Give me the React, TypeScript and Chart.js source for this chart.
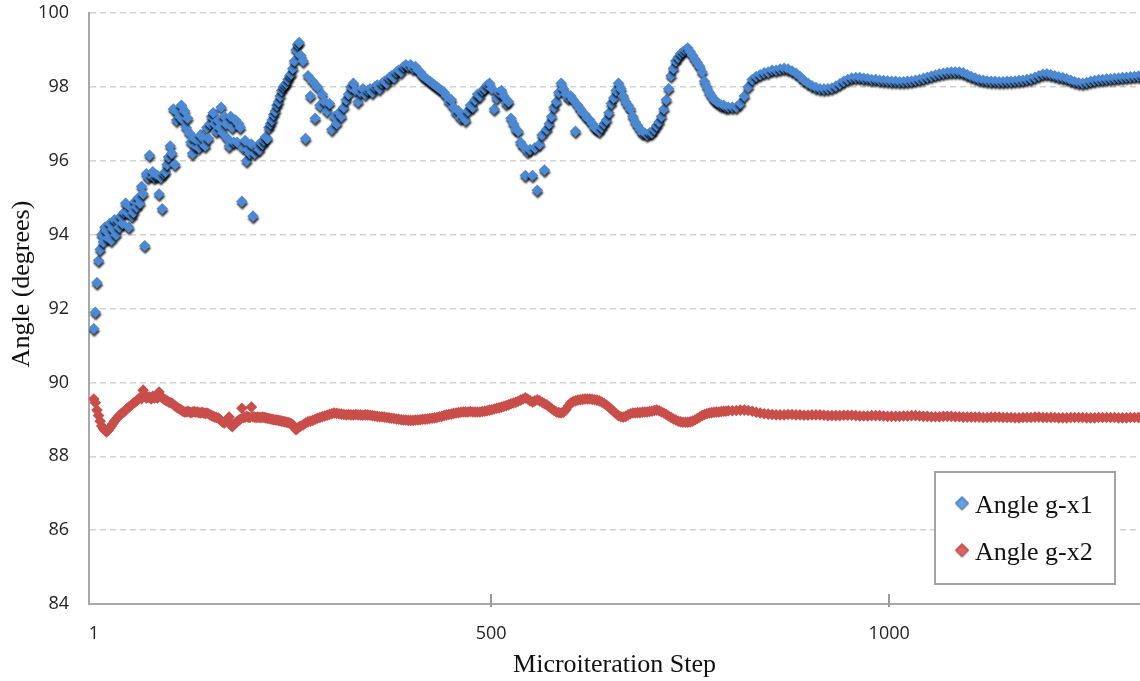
import { useEffect, useRef } from "react";
import { Chart, registerables } from "chart.js";

Chart.register(...registerables);

// Sampling of the microiteration steps:
// every 2 steps for 1..261, every 3 steps for 264..798, every 5 steps for 803..1318
const EARLY = { first: 1, last: 261, interval: 2 };
const MID = { first: 264, last: 798, interval: 3 };
const LATE = { first: 803, last: 1318, interval: 5 };

const blueLabel = "Angle g-x1";
const redLabel = "Angle g-x2";

// Angle g-x1, steps 1..261
const blueEarly = [
  91.45, 91.9, 92.7, 93.3, 93.6,
  94.0, 93.8, 94.2, 94.1, 93.9,
  94.3, 93.85, 94.15, 94.4, 94.0,
  94.4, 94.2, 94.5, 94.3, 94.6,
  94.85, 94.6, 94.2, 94.75, 94.5,
  94.6, 94.9, 94.75, 95.0, 94.85,
  95.3, 95.1, 93.7, 95.65, 95.55,
  96.15, 95.6, 95.7, 95.55, 95.6,
  95.6, 95.1, 95.55, 94.7, 95.65,
  95.7, 95.9, 96.1, 96.4, 96.2,
  97.4, 95.9, 97.1, 97.3, 97.2,
  97.5, 97.1, 97.35, 96.9, 97.15,
  96.75, 96.5, 96.2, 96.6, 96.4,
  96.55, 96.35, 96.7, 96.5, 96.6,
  96.4, 96.9, 96.6, 97.0, 97.2,
  97.3, 97.0, 96.8, 97.1, 96.9,
  97.45, 96.75, 97.2, 97.0, 96.6,
  96.4, 97.2, 96.9, 96.5, 97.1,
  96.5, 97.0, 96.9, 94.9, 96.35,
  96.55, 96.0, 96.3, 96.2, 96.45,
  94.5, 96.2, 96.35, 96.4, 96.3,
  96.5, 96.45, 96.55, 96.65, 96.6,
  96.9, 97.0, 97.1, 97.25, 97.35,
  97.5, 97.6, 97.75, 97.9, 98.0,
  98.05, 98.1, 98.2, 98.3, 98.35,
  98.5, 98.7, 99.0, 99.15, 99.2,
  98.85,
];

// Angle g-x1, steps 264..798
const blueMid = [
  98.7, 96.6, 98.3, 97.75, 98.15, 97.15, 98.0, 97.5, 97.8, 97.6,
  97.35, 97.55, 96.85, 97.2, 97.0, 97.3, 97.2, 97.45, 97.65, 97.8,
  98.0, 98.1, 97.9, 97.6, 97.85, 97.95, 97.8, 97.9, 97.95, 97.85,
  98.0, 98.05, 97.95, 98.1, 98.15, 98.1, 98.25, 98.3, 98.25, 98.4,
  98.45, 98.4, 98.55, 98.6, 98.55, 98.6, 98.5, 98.55, 98.45, 98.4,
  98.3, 98.25, 98.2, 98.15, 98.1, 98.05, 98.0, 97.95, 97.9, 97.85,
  97.75, 97.6, 97.65, 97.45, 97.3, 97.35, 97.15, 97.2, 97.1, 97.35,
  97.5, 97.45, 97.65, 97.8, 97.75, 97.9, 97.95, 98.05, 98.1, 97.95,
  97.4, 97.7, 97.85, 97.9, 97.75, 97.55, 97.6, 97.15, 97.0, 96.85,
  96.8, 96.5, 96.4, 95.6, 96.25, 96.3, 95.6, 96.35, 95.2, 96.45,
  96.7, 95.75, 96.85, 97.0, 97.2, 97.45, 97.6, 97.85, 98.1, 97.95,
  97.8, 97.7, 97.75, 97.65, 96.8, 97.5, 97.4, 97.3, 97.25, 97.15,
  97.1, 97.0, 96.9, 96.85, 96.8, 96.9, 97.0, 97.1, 97.3, 97.55,
  97.7, 97.9, 98.1, 97.95, 97.75, 97.6, 97.5, 97.4, 97.2, 97.05,
  96.95, 96.85, 96.75, 96.75, 96.7, 96.75, 96.75, 96.85, 96.95, 97.05,
  97.2, 97.4, 97.65, 97.95, 98.3, 98.5, 98.7, 98.8, 98.9, 98.95,
  99.0, 99.05, 98.95, 98.85, 98.75, 98.65, 98.55, 98.4, 98.15, 98.0,
  97.85, 97.75, 97.65, 97.6, 97.55, 97.5, 97.5, 97.45, 97.45,
];

// Angle g-x1, steps 803..1318
const blueLate = [
  97.45, 97.45, 97.55, 97.75, 98.0, 98.2, 98.28, 98.33, 98.38, 98.4,
  98.45, 98.45, 98.48, 98.5, 98.48, 98.43, 98.37, 98.28, 98.18, 98.1,
  98.03, 97.98, 97.95, 97.94, 97.95, 97.97, 98.02, 98.08, 98.15, 98.2,
  98.24, 98.25, 98.25, 98.23, 98.22, 98.2, 98.2, 98.18, 98.17, 98.16,
  98.15, 98.15, 98.14, 98.14, 98.15, 98.16, 98.18, 98.2, 98.23, 98.26,
  98.29, 98.32, 98.35, 98.37, 98.39, 98.4, 98.4, 98.4, 98.38, 98.33,
  98.28, 98.24, 98.2, 98.18, 98.16, 98.15, 98.15, 98.14, 98.14, 98.15,
  98.15, 98.16, 98.17, 98.18, 98.2, 98.22, 98.26, 98.3, 98.34, 98.35,
  98.33, 98.3, 98.27, 98.25, 98.22, 98.18, 98.14, 98.11, 98.1, 98.12,
  98.15, 98.17, 98.19, 98.2, 98.21, 98.22, 98.23, 98.24, 98.25, 98.26,
  98.27, 98.28, 98.29, 98.3,
];

// Angle g-x2, steps 1..261
const redEarly = [
  89.55, 89.45, 89.25, 89.1, 88.95,
  88.82, 88.75, 88.7, 88.66, 88.7,
  88.76, 88.82, 88.88, 88.95, 89.0,
  89.05, 89.1, 89.14, 89.18, 89.2,
  89.25, 89.3, 89.33, 89.36, 89.4,
  89.44, 89.47, 89.5, 89.55, 89.58,
  89.56, 89.79, 89.62, 89.58, 89.6,
  89.6, 89.55, 89.62, 89.58, 89.6,
  89.58, 89.74, 89.62, 89.58, 89.55,
  89.52, 89.5, 89.47, 89.45, 89.44,
  89.4, 89.36, 89.33, 89.3, 89.28,
  89.25, 89.22, 89.2, 89.2, 89.22,
  89.2, 89.18, 89.2, 89.21, 89.19,
  89.2, 89.18, 89.17, 89.19, 89.17,
  89.16, 89.17, 89.15, 89.12, 89.1,
  89.08, 89.06, 89.05, 89.04, 89.0,
  88.96, 88.92, 88.9, 88.95, 89.0,
  89.06, 88.85, 88.8, 88.86, 88.9,
  88.93, 88.97, 89.0, 89.3, 89.05,
  89.06, 89.08, 89.06, 89.05, 89.33,
  89.07, 89.06, 89.05, 89.06, 89.05,
  89.05, 89.06, 89.05, 89.04, 89.03,
  89.02, 89.01, 89.0, 88.99, 88.98,
  88.98, 88.97, 88.96, 88.95, 88.94,
  88.93, 88.92, 88.91, 88.9, 88.88,
  88.85, 88.78, 88.72, 88.75, 88.8,
  88.82,
];

// Angle g-x2, steps 264..798
const redMid = [
  88.85, 88.9, 88.93, 88.95, 88.97, 89.0, 89.03, 89.05, 89.07, 89.09,
  89.11, 89.13, 89.15, 89.17, 89.16, 89.15, 89.14, 89.13, 89.12, 89.13,
  89.12, 89.12, 89.13, 89.12, 89.12, 89.11, 89.12, 89.12, 89.11, 89.1,
  89.09, 89.08, 89.07, 89.07, 89.06, 89.05, 89.04, 89.03, 89.02, 89.01,
  89.0, 88.99, 88.98, 88.98, 88.97, 88.97, 88.97, 88.98, 88.98, 88.99,
  89.0, 89.0, 89.01, 89.02, 89.03, 89.04, 89.05, 89.07, 89.08, 89.1,
  89.12, 89.13, 89.14, 89.16, 89.17, 89.18, 89.19, 89.2, 89.2, 89.2,
  89.21, 89.2, 89.2, 89.2, 89.2, 89.21, 89.22, 89.23, 89.25, 89.26,
  89.28, 89.3, 89.31, 89.33, 89.35, 89.37, 89.39, 89.42, 89.44, 89.46,
  89.49, 89.52, 89.55, 89.58, 89.55, 89.5, 89.47, 89.5, 89.53, 89.5,
  89.46, 89.42, 89.39, 89.34, 89.29, 89.24, 89.2, 89.18, 89.17, 89.19,
  89.26, 89.36, 89.44, 89.48, 89.5, 89.52, 89.53, 89.54, 89.55, 89.55,
  89.55, 89.54, 89.53, 89.52, 89.5, 89.47, 89.43, 89.38, 89.33, 89.27,
  89.21, 89.15, 89.1, 89.07, 89.06, 89.08, 89.12, 89.15, 89.17, 89.17,
  89.18, 89.18, 89.19, 89.2, 89.2, 89.21, 89.22, 89.24, 89.25, 89.23,
  89.2, 89.17, 89.13, 89.09, 89.05, 89.01, 88.98, 88.95, 88.93, 88.92,
  88.92, 88.92, 88.93, 88.95, 88.98, 89.02, 89.06, 89.1, 89.13, 89.15,
  89.17, 89.18, 89.19, 89.2, 89.2, 89.21, 89.22, 89.22, 89.23,
];

// Angle g-x2, steps 803..1318
const redLate = [
  89.23, 89.24, 89.25, 89.25, 89.24, 89.22, 89.19, 89.17, 89.15, 89.14,
  89.13, 89.12, 89.12, 89.12, 89.13, 89.13, 89.12, 89.12, 89.11, 89.11,
  89.12, 89.12, 89.12, 89.11, 89.1, 89.1, 89.1, 89.1, 89.11, 89.11,
  89.11, 89.1, 89.09, 89.09, 89.09, 89.1, 89.1, 89.1, 89.09, 89.08,
  89.08, 89.08, 89.08, 89.09, 89.09, 89.1, 89.1, 89.09, 89.08, 89.08,
  89.07, 89.07, 89.07, 89.08, 89.08, 89.08, 89.07, 89.07, 89.06, 89.06,
  89.06, 89.06, 89.06, 89.05, 89.05, 89.06, 89.06, 89.06, 89.05, 89.05,
  89.05, 89.04, 89.04, 89.05, 89.05, 89.05, 89.06, 89.06, 89.05, 89.05,
  89.05, 89.05, 89.04, 89.04, 89.04, 89.05, 89.05, 89.05, 89.05, 89.04,
  89.04, 89.04, 89.05, 89.05, 89.05, 89.05, 89.05, 89.04, 89.04, 89.04,
  89.05, 89.05, 89.05, 89.05,
];

function stepRange(r: { first: number; last: number; interval: number }): number[] {
  const out: number[] = [];
  for (let s = r.first; s <= r.last; s += r.interval) out.push(s);
  return out;
}

const steps = [...stepRange(EARLY), ...stepRange(MID), ...stepRange(LATE)];
const blueAngles = [...blueEarly, ...blueMid, ...blueLate];
const redAngles = [...redEarly, ...redMid, ...redLate];

const xTickValues = [1, 500, 1000];
const xMin = -5;
const xMax = 1315;
const yMin = 84;
const yMax = 100;
const yStep = 2;

const xTitle = "Microiteration Step";
const yTitle = "Angle (degrees)";

const SERIF = "'Liberation Serif', 'DejaVu Serif', serif";
const SANS = "'Open Sans', 'Liberation Sans', sans-serif";

const BLUE = "#4c89d2";
const RED = "#c94e4a";
const LEGEND_BLUE = "#64a0e4";
const LEGEND_RED = "#e0625e";

const shadowPlugin = {
  id: "markerShadow",
  beforeDatasetDraw(chart: any, args: any) {
    if (args.index !== 0) return;
    const ctx = chart.ctx;
    ctx.save();
    ctx.shadowColor = "rgba(0,0,0,0.8)";
    ctx.shadowBlur = 2;
    ctx.shadowOffsetX = 0.5;
    ctx.shadowOffsetY = 2.5;
  },
  afterDatasetDraw(chart: any, args: any) {
    if (args.index !== 0) return;
    chart.ctx.restore();
  },
};

function diamond(ctx: CanvasRenderingContext2D, x: number, y: number, r: number, fill: string, stroke: string) {
  ctx.beginPath();
  ctx.moveTo(x - r, y);
  ctx.lineTo(x, y - r);
  ctx.lineTo(x + r, y);
  ctx.lineTo(x, y + r);
  ctx.closePath();
  ctx.fillStyle = fill;
  ctx.fill();
  ctx.strokeStyle = stroke;
  ctx.lineWidth = 1;
  ctx.stroke();
}

const decorPlugin = {
  id: "decor",
  afterDraw(chart: any) {
    const ctx: CanvasRenderingContext2D = chart.ctx;
    const xs = chart.scales.x;
    const area = chart.chartArea;

    // cross tick marks on the x axis
    ctx.save();
    ctx.strokeStyle = "#9a9a9a";
    ctx.lineWidth = 2;
    xs.ticks.forEach((t: any) => {
      if (t.value <= 1) return;
      const px = Math.round(xs.getPixelForValue(t.value));
      ctx.beginPath();
      ctx.moveTo(px, area.bottom - 10);
      ctx.lineTo(px, area.bottom + 3);
      ctx.stroke();
    });
    ctx.restore();

    // y axis title
    ctx.save();
    ctx.translate(22, 284);
    ctx.rotate(-Math.PI / 2);
    ctx.font = `26px ${SERIF}`;
    ctx.fillStyle = "#111";
    ctx.textAlign = "center";
    ctx.textBaseline = "middle";
    ctx.fillText(yTitle, 0, 0);
    ctx.restore();

    // legend box
    ctx.save();
    ctx.fillStyle = "#ffffff";
    ctx.fillRect(935, 472, 180, 112);
    ctx.strokeStyle = "#a4a4a4";
    ctx.lineWidth = 2;
    ctx.strokeRect(935, 472, 180, 112);
    const ds = chart.data.datasets;
    const legendColors = [
      [LEGEND_BLUE, "#4f86c6"],
      [LEGEND_RED, "#c2504c"],
    ];
    ds.forEach((d: any, i: number) => {
      const cy = 503 + i * 47;
      ctx.save();
      ctx.shadowColor = "rgba(0,0,0,0.35)";
      ctx.shadowBlur = 1.5;
      ctx.shadowOffsetY = 1;
      diamond(ctx, 962, cy, 6.5, legendColors[i][0], legendColors[i][1]);
      ctx.restore();
      ctx.font = `26px ${SERIF}`;
      ctx.fillStyle = "#111";
      ctx.textAlign = "left";
      ctx.textBaseline = "alphabetic";
      ctx.fillText(d.label, 975, cy + 10);
    });
    ctx.restore();
  },
};

export default function App() {
  const canvasRef = useRef<HTMLCanvasElement | null>(null);

  useEffect(() => {
    if (!canvasRef.current) return;
    const n = Math.min(steps.length, blueAngles.length, redAngles.length);
    const bluePoints = steps.slice(0, n).map((s, i) => ({ x: s, y: blueAngles[i] }));
    const redPoints = steps.slice(0, n).map((s, i) => ({ x: s, y: redAngles[i] }));

    const chart = new Chart(canvasRef.current, {
      type: "scatter",
      data: {
        datasets: [
          {
            label: blueLabel,
            data: bluePoints,
            pointStyle: "rectRot",
            pointRadius: 5.8,
            pointHoverRadius: 5.8,
            pointBorderWidth: 0,
            backgroundColor: BLUE,
            borderColor: BLUE,
            showLine: false,
          },
          {
            label: redLabel,
            data: redPoints,
            pointStyle: "rectRot",
            pointRadius: 5.8,
            pointHoverRadius: 5.8,
            pointBorderWidth: 0,
            backgroundColor: RED,
            borderColor: RED,
            showLine: false,
          },
        ],
      },
      options: {
        animation: false,
        responsive: false,
        devicePixelRatio: 1,
        events: [],
        layout: { autoPadding: false, padding: { top: 13, left: 0, right: 0, bottom: 0 } },
        plugins: {
          legend: { display: false },
          tooltip: { enabled: false },
        },
        scales: {
          x: {
            type: "linear",
            min: xMin,
            max: xMax,
            afterBuildTicks: (scale: any) => {
              scale.ticks = xTickValues.map((v) => ({ value: v }));
            },
            afterFit: (scale: any) => {
              scale.height = 77;
              scale.paddingLeft = 0;
              scale.paddingRight = 0;
            },
            grid: { display: false, drawTicks: false },
            border: { display: true, color: "#a8a8a8", width: 2 },
            ticks: {
              autoSkip: false,
              maxRotation: 0,
              padding: 19,
              color: "#222",
              font: { family: SANS, size: 18 },
              callback: (v: any) => String(v),
            },
            title: {
              display: true,
              text: xTitle,
              color: "#111",
              font: { family: SERIF, size: 26 },
              padding: { top: 0, bottom: 0 },
            },
          },
          y: {
            type: "linear",
            min: yMin,
            max: yMax,
            afterFit: (scale: any) => {
              scale.width = 89;
              scale.paddingTop = 0;
              scale.paddingBottom = 0;
            },
            grid: {
              drawTicks: false,
              lineWidth: 1.5,
              color: (c: any) => (c.tick && c.tick.value === yMin ? "rgba(0,0,0,0)" : "#d2d2d2"),
            },
            border: { display: true, color: "#a8a8a8", width: 2, dash: [6, 4] },
            ticks: {
              stepSize: yStep,
              padding: 20,
              color: "#222",
              font: { family: SANS, size: 18 },
              callback: (v: any) => String(v),
            },
          },
        },
      },
      plugins: [shadowPlugin, decorPlugin],
    } as any);

    return () => chart.destroy();
  }, []);

  return (
    <div style={{ position: "fixed", left: 0, top: 0, width: 1140, height: 681, background: "#fff" }}>
      <canvas ref={canvasRef} width={1140} height={681} style={{ display: "block" }} />
    </div>
  );
}
